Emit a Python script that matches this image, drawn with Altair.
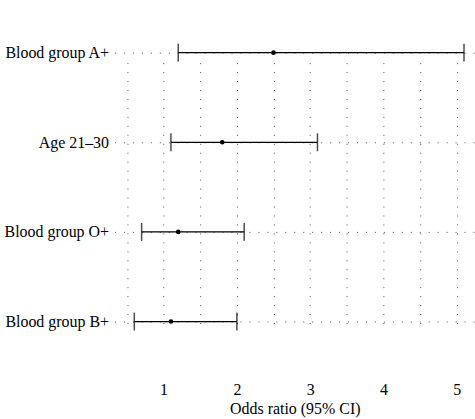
import altair as alt
import pandas as pd

labels = ["Blood group A+", "Age 21\u201330", "Blood group O+", "Blood group B+"]
odds = [2.5, 1.8, 1.2, 1.1]
lower = [1.2, 1.1, 0.7, 0.6]
upper = [5.1, 3.1, 2.1, 2.0]
grid_values = [0.5, 1, 1.5, 2, 2.5, 3, 3.5, 4, 4.5, 5]

df = pd.DataFrame({"label": labels, "or": odds, "lo": lower, "hi": upper})

FONT = "Liberation Serif"

xscale = alt.Scale(domain=[0.33, 5.25], nice=False, zero=False)
yscale = alt.Scale(type="point", domain=labels, range=[52, 322], padding=0)

x_axis = alt.Axis(
    values=grid_values,
    labelExpr="datum.value % 1 == 0 ? format(datum.value, 'd') : ''",
    grid=True, gridDash=[1, 8], gridColor="#555", gridWidth=1,
    ticks=False, domain=False, labelPadding=6, titlePadding=3,
    labelFont=FONT, labelFontSize=16, labelColor="black",
    titleFont=FONT, titleFontSize=16, titleFontWeight="normal", titleColor="black",
)
y_axis = alt.Axis(
    grid=True, gridDash=[1, 8], gridColor="#555", gridWidth=1,
    ticks=False, domain=False, labelPadding=6,
    labelFont=FONT, labelFontSize=16, labelColor="black", title=None,
)

base = alt.Chart(df)

rules = base.mark_rule(color="black", strokeWidth=1.3).encode(
    x=alt.X("lo:Q", scale=xscale, axis=x_axis, title="Odds ratio (95% CI)"),
    x2="hi:Q",
    y=alt.Y("label:N", scale=yscale, axis=y_axis, sort=labels),
)
cap_lo = base.mark_tick(color="black", thickness=1.5, size=18, orient="vertical").encode(
    x=alt.X("lo:Q", scale=xscale), y=alt.Y("label:N", scale=yscale, sort=labels)
)
cap_hi = base.mark_tick(color="black", thickness=1.5, size=18, orient="vertical").encode(
    x=alt.X("hi:Q", scale=xscale), y=alt.Y("label:N", scale=yscale, sort=labels)
)
pts = base.mark_circle(color="black", size=22, opacity=1).encode(
    x=alt.X("or:Q", scale=xscale), y=alt.Y("label:N", scale=yscale, sort=labels)
)

chart = (rules + cap_lo + cap_hi + pts).properties(
    width=362, height=376,
    autosize=alt.AutoSizeParams(type="none"),
    padding={"left": 115, "top": 0, "right": 0, "bottom": 43},
    background="white",
).configure_view(stroke=None)

chart.save("out.html", embed_options={"renderer": "svg", "actions": False})
